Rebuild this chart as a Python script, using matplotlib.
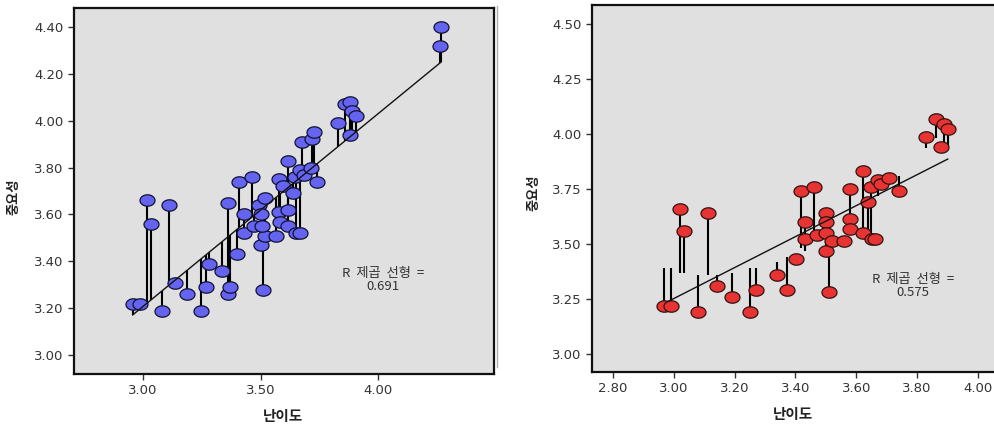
import numpy as np
import matplotlib.pyplot as plt
from matplotlib.path import Path
from matplotlib.ticker import FormatStrFormatter
from matplotlib.lines import Line2D

plt.rcParams['font.family'] = ['DejaVu Sans', 'Noto Sans CJK KR']

# left panel: points (난이도, 중요성)
left_x = [2.956, 2.987, 3.016, 3.033, 3.081, 3.109, 3.137, 3.188, 3.248, 3.269,
          3.280, 3.337, 3.361, 3.361, 3.370, 3.401, 3.409, 3.431, 3.431, 3.462,
          3.472, 3.494, 3.500, 3.504, 3.511, 3.521, 3.521, 3.506, 3.565, 3.579,
          3.579, 3.582, 3.596, 3.619, 3.619, 3.619, 3.639, 3.646, 3.650, 3.667,
          3.667, 3.678, 3.686, 3.714, 3.721, 3.729, 3.742, 3.830, 3.858, 3.880,
          3.891, 3.905, 3.882, 4.269, 4.262]
left_y = [3.22, 3.22, 3.66, 3.56, 3.19, 3.64, 3.31, 3.26, 3.19, 3.29,
          3.39, 3.36, 3.65, 3.26, 3.29, 3.43, 3.74, 3.60, 3.52, 3.76,
          3.55, 3.64, 3.60, 3.47, 3.28, 3.67, 3.51, 3.55, 3.51, 3.75,
          3.61, 3.57, 3.72, 3.83, 3.62, 3.55, 3.69, 3.76, 3.52, 3.52,
          3.79, 3.91, 3.77, 3.80, 3.92, 3.95, 3.74, 3.99, 4.07, 4.08,
          4.04, 4.02, 3.94, 4.40, 4.32]
left_slope = 0.821
left_intercept = 0.745
left_r2 = "0.691"

# right panel
right_x = [2.969, 2.991, 3.021, 3.033, 3.080, 3.111, 3.141, 3.191, 3.251, 3.271,
           3.341, 3.372, 3.402, 3.420, 3.432, 3.432, 3.462, 3.470, 3.500, 3.500,
           3.500, 3.500, 3.510, 3.521, 3.561, 3.581, 3.581, 3.581, 3.622, 3.622,
           3.640, 3.649, 3.651, 3.662, 3.671, 3.682, 3.709, 3.740, 3.830, 3.861,
           3.890, 3.901, 3.879]
right_y = [3.220, 3.220, 3.659, 3.561, 3.189, 3.642, 3.309, 3.261, 3.189, 3.289,
           3.359, 3.289, 3.430, 3.739, 3.602, 3.521, 3.759, 3.539, 3.642, 3.602,
           3.552, 3.470, 3.280, 3.512, 3.512, 3.752, 3.612, 3.570, 3.552, 3.830,
           3.691, 3.761, 3.521, 3.521, 3.791, 3.773, 3.800, 3.739, 3.988, 4.070,
           4.045, 4.021, 3.941]
# where each point's spike ends (nan = no spike)
right_spike = [3.39, 3.39, 3.37, 3.37, 3.36, 3.36, 3.36, 3.37, 3.39, 3.39,
               3.42, 3.44, np.nan, 3.48, 3.48, 3.47, 3.55, np.nan, 3.47, np.nan,
               np.nan, np.nan, 3.47, np.nan, np.nan, 3.61, np.nan, np.nan, np.nan, 3.55,
               3.53, 3.53, np.nan, np.nan, 3.72, np.nan, np.nan, 3.81, 3.935, 3.98,
               3.94, 3.95, np.nan]
right_slope = 0.7036
right_intercept = 1.141
right_r2 = "0.575"

t = np.linspace(0, 2 * np.pi, 60)
ellipse = Path(np.column_stack([np.cos(t), 0.76 * np.sin(t)]))

fig = plt.figure(figsize=(9.95, 4.25), dpi=100)
ax1 = fig.add_axes([74 / 995, 51 / 425, 420 / 995, 366 / 425])
ax2 = fig.add_axes([592 / 995, 53 / 425, 405 / 995, 367 / 425])

# thin border line between the two pictures
fig.add_artist(Line2D([497 / 995, 497 / 995], [(425 - 367) / 425, (425 - 6) / 425],
                      color='#b0b0b0', lw=1))


def style(ax):
    ax.set_facecolor('#e0e0e0')
    for s in ax.spines.values():
        s.set_linewidth(1.6)
        s.set_color('#111111')
    ax.tick_params(direction='out', length=4.5, width=1, color='#333333',
                   labelcolor='#333333', labelsize=9.5, pad=3)
    ax.xaxis.set_major_formatter(FormatStrFormatter('%.2f'))
    ax.yaxis.set_major_formatter(FormatStrFormatter('%.2f'))
    ax.set_xlabel('난이도', fontsize=10.5, fontweight='bold', color='#222222')
    ax.set_ylabel('중요성', fontsize=9.5, fontweight='bold', color='#222222')


# left
lx = np.array(left_x)
ly = np.array(left_y)
fit_l = left_intercept + left_slope * lx
ax1.vlines(lx, ly, fit_l, colors='black', lw=1.5, zorder=2)
ax1.plot(lx, ly, ls='none', marker=ellipse, ms=10.8, mfc='#6464f0', mec='#111133',
         mew=0.9, zorder=3)
xs = np.array([lx.min(), lx.max()])
ax1.plot(xs, left_intercept + left_slope * xs, color='#111111', lw=1, zorder=4)
ax1.set_xlim(2.706, 4.494)
ax1.set_ylim(2.92, 4.48)
ax1.set_xticks([3.0, 3.5, 4.0])
ax1.set_yticks(np.arange(3.0, 4.41, 0.2))
style(ax1)
ax1.text(4.02, 3.32, 'R  제곱  선형  =\n' + left_r2, ha='center', va='center',
         fontsize=9.5, color='#333333', linespacing=1.0,
         family=['Noto Sans CJK KR', 'DejaVu Sans'])
ax1.xaxis.set_label_coords(0.498, -0.095)
ax1.yaxis.set_label_coords(-0.128, 0.484)

# right
rx = np.array(right_x)
ry = np.array(right_y)
rs = np.array(right_spike)
m = ~np.isnan(rs)
ax2.vlines(rx[m], ry[m], rs[m], colors='black', lw=1.5, zorder=2)
ax2.plot(rx, ry, ls='none', marker=ellipse, ms=10.8, mfc='#e83333', mec='#331111',
         mew=0.9, zorder=3)
xs = np.array([2.98, rx.max()])
ax2.plot(xs, right_intercept + right_slope * xs, color='#111111', lw=1, zorder=4)
ax2.set_xlim(2.731, 4.063)
ax2.set_ylim(2.918, 4.586)
ax2.set_xticks(np.arange(2.8, 4.01, 0.2))
ax2.set_yticks(np.arange(3.0, 4.51, 0.25))
style(ax2)
ax2.text(3.786, 3.31, 'R  제곱  선형  =\n' + right_r2, ha='center', va='center',
         fontsize=9.5, color='#333333', linespacing=1.0,
         family=['Noto Sans CJK KR', 'DejaVu Sans'])
ax2.xaxis.set_label_coords(0.496, -0.095)
ax2.yaxis.set_label_coords(-0.128, 0.488)

fig.savefig('out.png', dpi=100)
